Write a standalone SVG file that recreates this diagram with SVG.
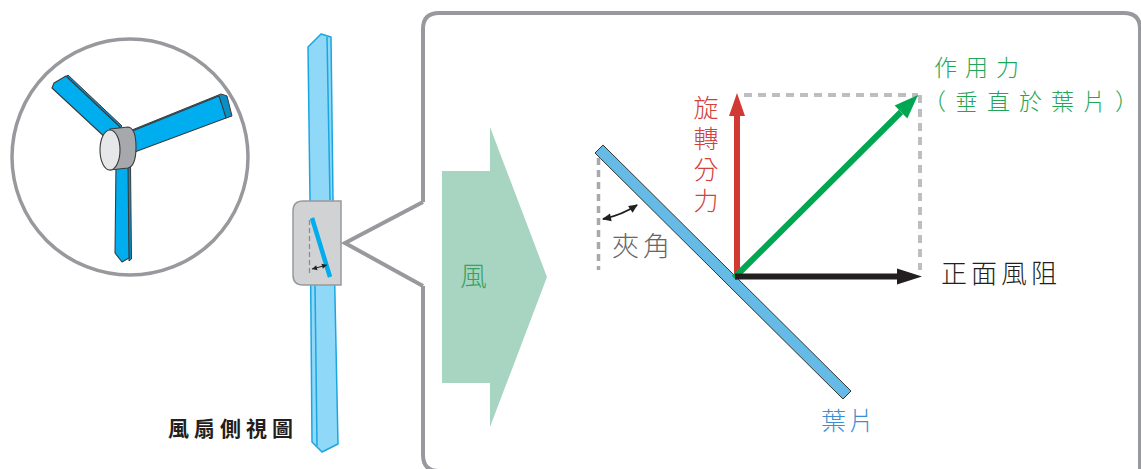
<svg xmlns="http://www.w3.org/2000/svg" width="1141" height="469" viewBox="0 0 1141 469">
  <style>
    .cjk { font-family: "Noto Sans CJK TC", "Noto Sans CJK SC", sans-serif; font-weight: 300; }
    .frame { fill: none; stroke: #98999c; stroke-width: 4; }
    .blade { fill: #00aeef; stroke: #3a3a3a; stroke-width: 1.1; stroke-linejoin: round; }
    .bladeEdge { fill: #0b8dc6; stroke: #3a3a3a; stroke-width: 1; stroke-linejoin: round; }
    .side { fill: #8fd8f7; stroke: #1ba6e2; stroke-width: 1.5; stroke-linejoin: round; }
    .dots { fill: none; stroke: #bcbec0; stroke-width: 4; stroke-dasharray: 8 6; }
  </style>
  <defs>
    <marker id="headRed" markerUnits="userSpaceOnUse" markerWidth="24" markerHeight="18" refX="0" refY="8" orient="auto" overflow="visible">
      <path d="M0,0 L23,8 L0,16 Z" fill="#d13a33"/>
    </marker>
    <marker id="headGreen" markerUnits="userSpaceOnUse" markerWidth="26" markerHeight="20" refX="0" refY="9" orient="auto" overflow="visible">
      <path d="M0,0 L24,9 L0,18 Z" fill="#00a651"/>
    </marker>
    <marker id="headBlack" markerUnits="userSpaceOnUse" markerWidth="26" markerHeight="18" refX="0" refY="8" orient="auto" overflow="visible">
      <path d="M0,0 L25,8 L0,16 Z" fill="#231f20"/>
    </marker>
    <marker id="tipSmall" markerUnits="userSpaceOnUse" markerWidth="10" markerHeight="8" refX="8" refY="4" orient="auto-start-reverse" overflow="visible">
      <path d="M0,0 L9,4 L0,8 Z" fill="#231f20"/>
    </marker>
    <marker id="tipTiny" markerUnits="userSpaceOnUse" markerWidth="6" markerHeight="5" refX="5" refY="2.5" orient="auto-start-reverse" overflow="visible">
      <path d="M0,0 L5,2.5 L0,5 Z" fill="#231f20"/>
    </marker>
  </defs>

  <!-- front view of the fan inside a circle -->
  <g id="fan-front">
    <circle cx="130" cy="157" r="118" fill="#fff" stroke="#98999c" stroke-width="3.5"/>
    <!-- blade thickness edges -->
    <polygon class="bladeEdge" points="55,86 68,75 122,126 110,139"/>
    <polygon class="bladeEdge" points="127,132 221,94 227,96 232,116 226,118"/>
    <polygon class="bladeEdge" points="127,165 130.5,165 131.5,259 129,261"/>
    <!-- blades -->
    <polygon class="blade" points="52,88 54,83 66,76 120,127 108,140"/>
    <polygon class="blade" points="125,134 219,96 226,118 132,153"/>
    <polygon class="blade" points="116,165 128,165 129,258 122,262 115,253"/>
    <!-- hub -->
    <path d="M110,129 L128,127 Q136,128 136,147 Q136,166 128,168 L110,170 Z" fill="#a6a8ab" stroke="#3a3a3a" stroke-width="1.1"/>
    <ellipse cx="110" cy="150" rx="10" ry="20" fill="#e6e7e8" stroke="#3a3a3a" stroke-width="1.1"/>
  </g>

  <!-- side view of the fan blade -->
  <g id="fan-side">
    <polygon class="side" points="308,47 321,34 331,37 333,200 338,444 322,452 312,442 310,200"/>
    <line x1="327" y1="37" x2="330" y2="200" stroke="#1ba6e2" stroke-width="1.5"/>
    <line x1="315" y1="285" x2="317" y2="446" stroke="#1ba6e2" stroke-width="1.5"/>
    <path d="M303,201 L341,201 L341,285 L303,285 Q293,285 293,275 L293,211 Q293,201 303,201 Z" fill="#d1d2d4" stroke="#98999c" stroke-width="1.5"/>
    <line x1="309.5" y1="220" x2="309.5" y2="273" stroke="#8a8b8d" stroke-width="1.3" stroke-dasharray="5 3"/>
    <line x1="312" y1="218" x2="330" y2="277" stroke="#00aeef" stroke-width="4.5"/>
    <line x1="312" y1="269" x2="327" y2="265" stroke="#231f20" stroke-width="1" marker-start="url(#tipTiny)" marker-end="url(#tipTiny)"/>
    <text x="168" y="436" font-family="'Noto Sans CJK TC', 'Noto Sans CJK SC', sans-serif" font-size="21" font-weight="bold" letter-spacing="5" fill="#231f20">風扇側視圖</text>
  </g>

  <!-- magnified callout frame -->
  <g id="callout">
    <path class="frame" d="M423,202 L423,29 Q423,13 439,13 L1124,13 Q1140,13 1140,29 L1140,472 M423,286 L423,455 Q423,471 439,471 M423,202 L345,243 L423,286"/>
  </g>

  <!-- wind arrow -->
  <g id="wind">
    <polygon points="442,171 490,171 490,127 547,277 490,427 490,383 442,383" fill="#a8d5c2"/>
    <text class="cjk" x="460" y="286" font-size="27" fill="#3aa163">風</text>
  </g>

  <!-- blade cross-section and angle -->
  <g id="blade">
    <polygon points="595,153 603,145 851,391 843,399" fill="#66bbe6" stroke="#333" stroke-width="1"/>
    <text class="cjk" x="821" y="430" font-size="25" letter-spacing="3" fill="#3b8fd0">葉片</text>
  </g>

  <g id="angle">
    <line x1="598.5" y1="158" x2="598.5" y2="270" stroke="#a7a9ac" stroke-width="3.5" stroke-dasharray="7 5"/>
    <path d="M603,219 Q622,215 637,205" fill="none" stroke="#231f20" stroke-width="2" marker-start="url(#tipSmall)" marker-end="url(#tipSmall)"/>
    <text class="cjk" x="612" y="256" font-size="27" letter-spacing="4" fill="#666">夾角</text>
  </g>

  <!-- force vectors -->
  <g id="connectors">
    <line class="dots" x1="744" y1="95" x2="918" y2="95"/>
    <line class="dots" x1="920" y1="95" x2="920" y2="270"/>
    <line x1="737" y1="277" x2="737" y2="116" stroke="#d13a33" stroke-width="6" marker-end="url(#headRed)"/>
    <line x1="734" y1="278" x2="901" y2="112" stroke="#00a651" stroke-width="6" marker-end="url(#headGreen)"/>
    <line x1="735" y1="276.5" x2="897" y2="276.5" stroke="#231f20" stroke-width="6" marker-end="url(#headBlack)"/>
  </g>

  <g id="label-rotation">
    <text class="cjk" x="706" y="95" font-size="25" letter-spacing="6" fill="#d2413a" style="writing-mode: vertical-rl">旋轉分力</text>
  </g>

  <g id="label-force">
    <text class="cjk" x="934 965 996" y="76" font-size="23" fill="#1fa656">作用力</text>
    <text class="cjk" x="923 955 987 1019 1051 1083 1115" y="110" font-size="23" fill="#1fa656">（垂直於葉片）</text>
  </g>

  <g id="label-drag">
    <text class="cjk" x="941" y="283" font-size="26" letter-spacing="4" fill="#231f20">正面風阻</text>
  </g>
</svg>
